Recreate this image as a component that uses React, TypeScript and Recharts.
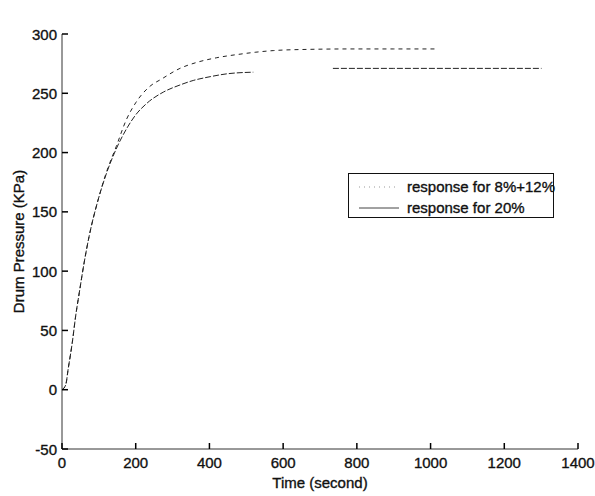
import React from 'react';
import { LineChart, Line, XAxis, YAxis, Legend } from 'recharts';

// ---- data ----
const timeTicks = [0, 200, 400, 600, 800, 1000, 1200, 1400];
const pressureTicks = [-50, 0, 50, 100, 150, 200, 250, 300];

const time8_12 = [0, 10, 17, 28, 37, 47, 60, 74, 97, 119, 147, 175, 200, 239, 270, 320, 365, 420, 483, 524, 573, 664, 781, 900, 1017];
const pressure8_12 = [0, 4, 18, 40, 62, 82, 107, 130, 159, 182, 205, 228, 242, 256, 262, 271, 276, 280, 283, 284.6, 286, 287, 287.4, 287.4, 287.4];

const time20 = [0, 10, 17, 28, 37, 47, 60, 74, 97, 119, 147, 175, 198, 230, 275, 320, 356, 402, 447, 519, 620, 735, 900, 1100, 1301];
const pressure20: (number | null)[] = [0, 4, 18, 40, 62, 82, 107, 130, 159, 181, 203, 220, 231, 241.5, 251, 257, 260.8, 264, 266.4, 267.8, null, 271, 271, 271, 271];

const seriesNames = ['response for 8%+12%', 'response for 20%'];

const data8_12 = time8_12.map((t, i) => ({ t, p: pressure8_12[i] }));
const data20 = time20.map((t, i) => ({ t, p: pressure20[i] }));

const FONT = '"Liberation Sans", Arial, Helvetica, sans-serif';
const INK = '#111';
const TEXT_STROKE = 0.35;
const TICK_LEN = 6;

const LeftTick = (props: any) => {
  const { x, y, payload } = props;
  const ax = Number(x) + 5;
  return (
    <g>
      <path d={`M${ax},${y}h${TICK_LEN}`} stroke="#000" strokeWidth={1.5} fill="none" />
      <text x={x} y={y} dy={5.5} textAnchor="end" fontSize={15} fontFamily={FONT} fill={INK} stroke={INK} strokeWidth={TEXT_STROKE}>
        {payload.value}
      </text>
    </g>
  );
};

const RightTick = (props: any) => {
  const { x, y } = props;
  return <path d={`M${x},${y}h${-TICK_LEN}`} stroke="#000" strokeWidth={1.5} fill="none" />;
};

const BottomTick = (props: any) => {
  const { x, y, payload } = props;
  return (
    <g>
      <path d={`M${x},${y}v${-TICK_LEN}`} stroke="#000" strokeWidth={1.5} fill="none" />
      <text x={x} y={Number(y) + 19} textAnchor="middle" fontSize={15} fontFamily={FONT} fill={INK} stroke={INK} strokeWidth={TEXT_STROKE}>
        {payload.value}
      </text>
    </g>
  );
};

const TopTick = (props: any) => {
  const { x, y } = props;
  return <path d={`M${x},${y}v${TICK_LEN}`} stroke="#000" strokeWidth={1.5} fill="none" />;
};

const YLabel = (props: any) => {
  const vb = props.viewBox || { y: 34, height: 415 };
  const cx = 18;
  const cy = vb.y + vb.height / 2;
  return (
    <text
      x={cx}
      y={cy}
      transform={`rotate(-90 ${cx} ${cy})`}
      textAnchor="middle"
      dominantBaseline="central"
      fontSize={15}
      fontFamily={FONT}
      fill={INK}
      stroke={INK}
      strokeWidth={TEXT_STROKE}
    >
      Drum Pressure (KPa)
    </text>
  );
};

const LegendBox = () => (
  <div
    style={{
      border: '1px solid #111',
      background: '#fff',
      width: 206,
      height: 45,
      boxSizing: 'border-box',
      fontFamily: FONT,
      fontSize: 15,
      color: INK,
      position: 'relative',
      WebkitTextStroke: '0.35px #111',
    }}
  >
    <svg width={50} height={45} style={{ position: 'absolute', left: 0, top: 0 }}>
      <line x1={10} y1={13} x2={51} y2={13} stroke="#999" strokeWidth={1} strokeDasharray="1 4" />
      <line x1={10} y1={34} x2={51} y2={34} stroke="#444" strokeWidth={1} />
    </svg>
    <div style={{ position: 'absolute', left: 58, top: 4, whiteSpace: 'nowrap', lineHeight: '17px' }}>{seriesNames[0]}</div>
    <div style={{ position: 'absolute', left: 58, top: 25, whiteSpace: 'nowrap', lineHeight: '17px' }}>{seriesNames[1]}</div>
  </div>
);

export default function App() {
  return (
    <div style={{ position: 'absolute', left: 0, top: 0, width: 595, height: 496, background: '#fff' }}>
      <LineChart width={595} height={496} margin={{ top: 34, right: 17, bottom: 0, left: 0 }}>
        <XAxis
          dataKey="t"
          type="number"
          domain={[0, 1400]}
          ticks={timeTicks}
          interval={0}
          height={47}
          tickSize={0}
          tickMargin={0}
          tick={<BottomTick />}
          axisLine={{ stroke: '#333', strokeWidth: 1 }}
          tickLine={false}
          allowDataOverflow
          label={{ value: 'Time (second)', position: 'insideBottom', offset: 8, fontSize: 15, fontFamily: FONT, fill: INK, stroke: INK, strokeWidth: TEXT_STROKE }}
        />
        <XAxis
          xAxisId="top"
          orientation="top"
          dataKey="t"
          type="number"
          domain={[0, 1400]}
          ticks={timeTicks}
          interval={0}
          height={0}
          tickSize={0}
          tickMargin={0}
          tick={<TopTick />}
          axisLine={{ stroke: '#333', strokeWidth: 1 }}
          tickLine={false}
          allowDataOverflow
          label={{ value: 'Response for u2 change', position: 'top', offset: 10, fontSize: 15, fontFamily: FONT, fill: INK, stroke: INK, strokeWidth: TEXT_STROKE }}
        />
        <YAxis
          type="number"
          domain={[-50, 300]}
          ticks={pressureTicks}
          interval={0}
          width={62}
          tickSize={0}
          tickMargin={5}
          tick={<LeftTick />}
          axisLine={{ stroke: '#333', strokeWidth: 1 }}
          tickLine={false}
          allowDataOverflow
          label={<YLabel />}
        />
        <YAxis
          yAxisId="right"
          orientation="right"
          type="number"
          domain={[-50, 300]}
          ticks={pressureTicks}
          interval={0}
          width={0}
          tickSize={0}
          tickMargin={0}
          tick={<RightTick />}
          axisLine={{ stroke: '#111', strokeWidth: 1 }}
          tickLine={false}
          allowDataOverflow
        />
        <Legend
          layout="vertical"
          align="center"
          verticalAlign="middle"
          content={<LegendBox />}
          wrapperStyle={{ position: 'absolute', left: 348, top: 173, width: 206, height: 45 }}
        />
        <Line
          data={data8_12}
          dataKey="p"
          name={seriesNames[0]}
          type="monotone"
          stroke="#222"
          strokeWidth={1}
          strokeDasharray="4 4"
          dot={false}
          isAnimationActive={false}
        />
        <Line
          data={data20}
          dataKey="p"
          name={seriesNames[1]}
          type="monotone"
          stroke="#222"
          strokeWidth={1}
          strokeDasharray="6 2"
          dot={false}
          connectNulls={false}
          isAnimationActive={false}
        />
      </LineChart>
    </div>
  );
}
